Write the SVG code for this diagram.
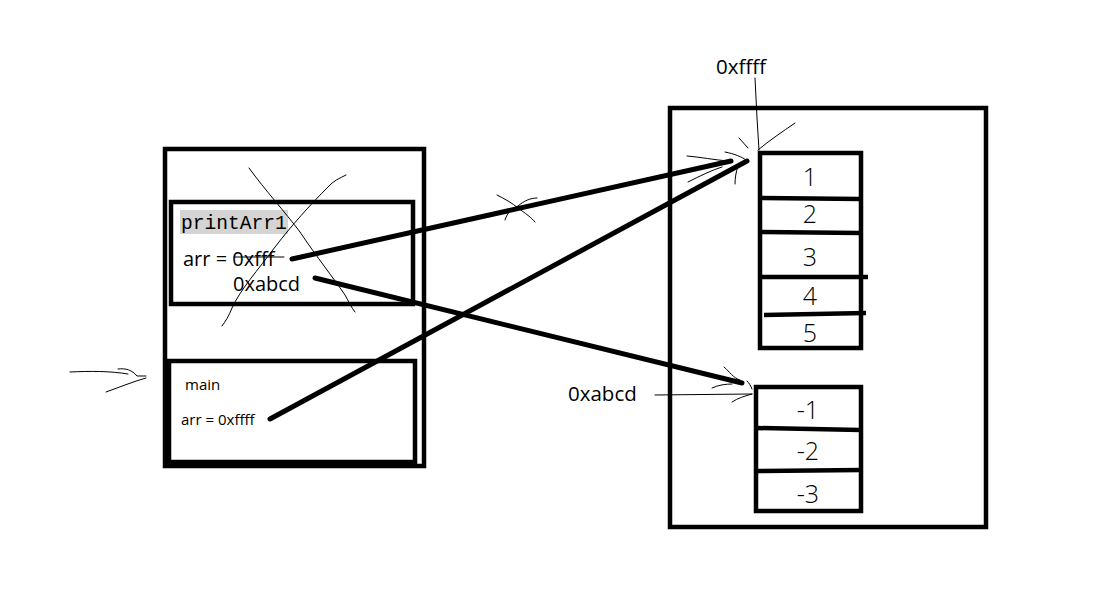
<svg xmlns="http://www.w3.org/2000/svg" width="1099" height="598" viewBox="0 0 1099 598">
<style>
.box{fill:none;stroke:#000;stroke-width:4.5}
.thick{fill:none;stroke:#000;stroke-width:5;stroke-linecap:round}
.thin{fill:none;stroke:#000;stroke-width:1;stroke-linecap:round;stroke-linejoin:round}
.t{font-family:"Open Sans","Noto Sans","Liberation Sans",sans-serif;fill:#000}
.mono{font-family:"Liberation Mono","DejaVu Sans Mono",monospace;fill:#000}
.hw{font-family:"Open Sans","Liberation Sans",sans-serif;font-weight:300;fill:#000;font-size:25px;text-anchor:middle}
</style>
<rect width="1099" height="598" fill="#fff"/>
<g id="stack">
<rect class="box" x="165" y="149" width="259" height="317"/>
</g>
<g id="printArr1">
<rect class="box" x="171" y="202" width="242" height="102"/>
<rect x="180" y="210" width="108" height="24" fill="#d4d4d4"/>
<text class="mono" x="181" y="229" font-size="19.6">printArr1</text>
<text class="t" x="183" y="266" font-size="20">arr = 0xfff</text>
<line class="thin" x1="234" y1="257" x2="284" y2="257" stroke-width="1.5"/>
<text class="t" x="233" y="291" font-size="20">0xabcd</text>
</g>
<g id="main">
<rect class="box" x="169" y="361" width="246" height="101" stroke-width="5"/>
<text class="t" x="185" y="390" font-size="15">main</text>
<text class="t" x="181" y="425" font-size="15">arr = 0xffff</text>
</g>
<g id="heap">
<rect class="box" x="670" y="108" width="316" height="419"/>
</g>
<g id="arr1">
<rect class="box" x="760" y="153" width="101" height="195"/>
<line class="box" x1="760" y1="198" x2="861" y2="199"/>
<line class="box" x1="760" y1="232" x2="861" y2="233"/>
<line class="box" x1="761" y1="277" x2="868" y2="277"/>
<line class="box" x1="764" y1="315" x2="866" y2="313"/>
<text class="hw" x="810" y="186">1</text>
<text class="hw" x="810" y="223">2</text>
<text class="hw" x="810" y="266">3</text>
<text class="hw" x="810" y="305">4</text>
<text class="hw" x="810" y="342">5</text>
</g>
<g id="arr2">
<rect class="box" x="756" y="387" width="105" height="124"/>
<line class="box" x1="756" y1="428" x2="861" y2="430"/>
<line class="box" x1="756" y1="471" x2="861" y2="470"/>
<text class="hw" x="808" y="419">-1</text>
<text class="hw" x="808" y="460">-2</text>
<text class="hw" x="808" y="503">-3</text>
</g>
<g id="labels">
<text class="t" x="716" y="74" font-size="20.5">0xffff</text>
<text class="t" x="568" y="401" font-size="20.5">0xabcd</text>
</g>
<g id="connectors">
<line class="thick" x1="292" y1="259" x2="731" y2="161"/>
<line class="thick" x1="270" y1="419" x2="747" y2="161"/>
<line class="thick" x1="315" y1="278" x2="742" y2="383"/>
<path class="thin" d="M755 78 L757 118 L759 150"/>
<path class="thin" d="M655 395 L752 394"/>
<path class="thin" d="M739 138 L748 148 M758 150 C770 140 782 132 795 123"/>
<path class="thin" d="M687 156 C700 157 715 160 728 161 M688 182 C700 176 712 170 722 167 M725 152 C735 154 742 157 746 160 M738 166 C736 172 735 178 735 184"/>
<path class="thin" d="M724 367 C730 372 733 378 740 380 M712 388 C718 385 726 384 732 384 M747 381 C749 383 751 386 752 389 M732 402 C738 398 745 396 752 394"/>
<path class="thin" d="M70 372 C90 371 110 371 128 374 M118 369 C126 368 132 370 137 376 L146 376 M106 392 C120 387 132 382 146 378"/>
<path class="thin" d="M497 195 C505 199 512 203 518 208 C525 213 532 218 535 222 M505 220 C507 214 510 209 518 206 C524 201 530 198 537 198"/>
<path class="thin" d="M249 168 C265 190 285 212 300 232 C316 256 335 280 345 295 C349 302 351 307 355 312"/>
<path class="thin" d="M346 175 C340 178 333 181 328 187 C310 205 292 225 275 247 C258 270 240 290 232 308 C229 316 225 322 222 326"/>
</g>
</svg>
